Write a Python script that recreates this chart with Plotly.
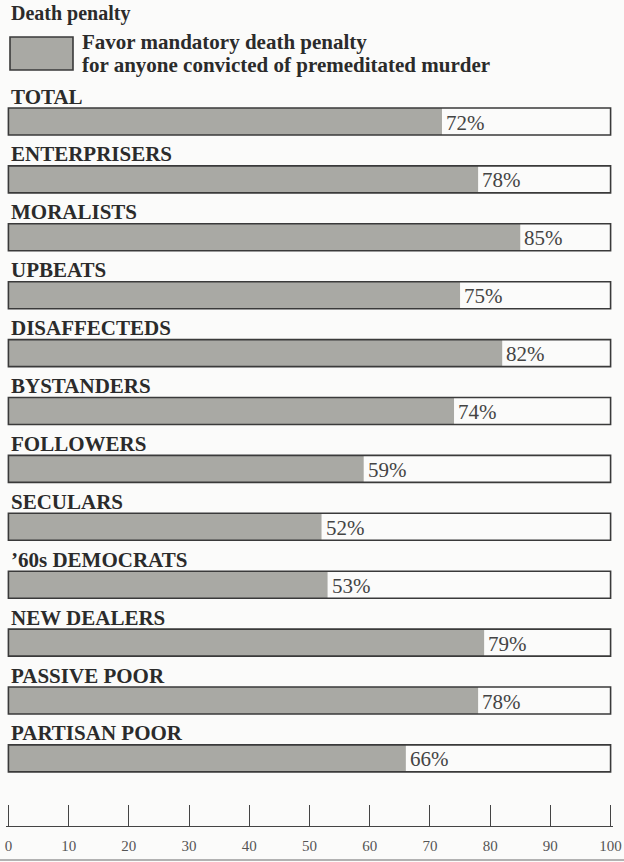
import plotly.graph_objects as go

# Share of each group favoring a mandatory death penalty
groups = [
    "TOTAL", "ENTERPRISERS", "MORALISTS", "UPBEATS", "DISAFFECTEDS",
    "BYSTANDERS", "FOLLOWERS", "SECULARS", "\u201960s DEMOCRATS",
    "NEW DEALERS", "PASSIVE POOR", "PARTISAN POOR",
]
favor_pct = [72, 78, 85, 75, 82, 74, 59, 52, 53, 79, 78, 66]
scale_max = [100] * len(groups)
tick_vals = [0, 10, 20, 30, 40, 50, 60, 70, 80, 90, 100]

W, H = 624, 862
ML, MR, MT, MB = 6, 11, 0, 36
X_PAD = 0.4            # small slack so the end ticks are kept
plot_h = H - MT - MB
row_px = 57.9          # vertical distance between rows
first_px = 121.5       # centre of first bar from the top
y_top = -first_px / row_px
y_bot = y_top + plot_h / row_px

SERIF = '"Liberation Serif", "Times New Roman", serif'
INK = "#2b2b2b"
FILL = "#a9a9a4"
BG = "#fbfbfa"

rows = list(range(len(groups)))

fig = go.Figure()
fig.add_trace(go.Bar(
    x=favor_pct, y=rows, orientation="h", width=0.466,
    marker=dict(color=FILL, line=dict(width=0)),
    hoverinfo="skip", showlegend=False,
))
fig.add_trace(go.Bar(
    x=scale_max, y=rows, orientation="h", width=0.466,
    marker=dict(color="rgba(0,0,0,0)", line=dict(color="#3a3a3a", width=1.6)),
    hoverinfo="skip", showlegend=False,
))

annotations = []
for i, (name, v) in enumerate(zip(groups, favor_pct)):
    annotations.append(dict(
        x=0, y=i, xref="x", yref="y", text=name, showarrow=False,
        xanchor="left", yanchor="middle", xshift=1, yshift=25,
        font=dict(family=SERIF, size=21, color=INK, weight="bold"),
    ))
    annotations.append(dict(
        x=v, y=i, xref="x", yref="y", text=f"{v}%", showarrow=False,
        xanchor="left", yanchor="middle", xshift=2, yshift=-1,
        font=dict(family=SERIF, size=21, color="#444444"),
    ))


def px_x(p):
    return (p - ML) / (W - ML - MR)


def px_y(p):
    return 1 - (p - MT) / plot_h


# Key
annotations += [
    dict(x=px_x(9), y=px_y(14), xref="paper", yref="paper", text="Death penalty",
         showarrow=False, xanchor="left", yanchor="middle",
         font=dict(family=SERIF, size=20, color=INK, weight="bold")),
    dict(x=px_x(80), y=px_y(42), xref="paper", yref="paper",
         text="Favor mandatory death penalty", showarrow=False,
         xanchor="left", yanchor="middle",
         font=dict(family=SERIF, size=21, color=INK, weight="bold")),
    dict(x=px_x(80), y=px_y(65), xref="paper", yref="paper",
         text="for anyone convicted of premeditated murder", showarrow=False,
         xanchor="left", yanchor="middle",
         font=dict(family=SERIF, size=21, color=INK, weight="bold")),
]

shapes = [
    dict(type="rect", xref="paper", yref="paper",
         x0=px_x(10), x1=px_x(73), y0=px_y(70), y1=px_y(37),
         fillcolor=FILL, line=dict(color="#3a3a3a", width=1.6)),
    dict(type="line", xref="paper", yref="paper",
         x0=px_x(0), x1=px_x(W), y0=px_y(860), y1=px_y(860),
         line=dict(color="#9a9a9a", width=1.5)),
]

fig.update_layout(
    width=W, height=H,
    margin=dict(l=ML, r=MR, t=MT, b=MB, pad=0),
    barmode="overlay",
    paper_bgcolor=BG, plot_bgcolor=BG,
    annotations=annotations, shapes=shapes,
    xaxis=dict(
        range=[-X_PAD, 100 + X_PAD], tickvals=tick_vals, ticks="inside",
        ticklen=21, tickwidth=1.2, tickcolor="#444444", showline=True,
        linecolor="#444444", linewidth=1.4, showgrid=False, zeroline=False,
        ticklabelstandoff=6,
        tickfont=dict(family=SERIF, size=15, color="#555555"),
        fixedrange=True,
    ),
    yaxis=dict(range=[y_bot, y_top], visible=False, showgrid=False,
               zeroline=False, fixedrange=True),
)

fig.write_html("out.html")
